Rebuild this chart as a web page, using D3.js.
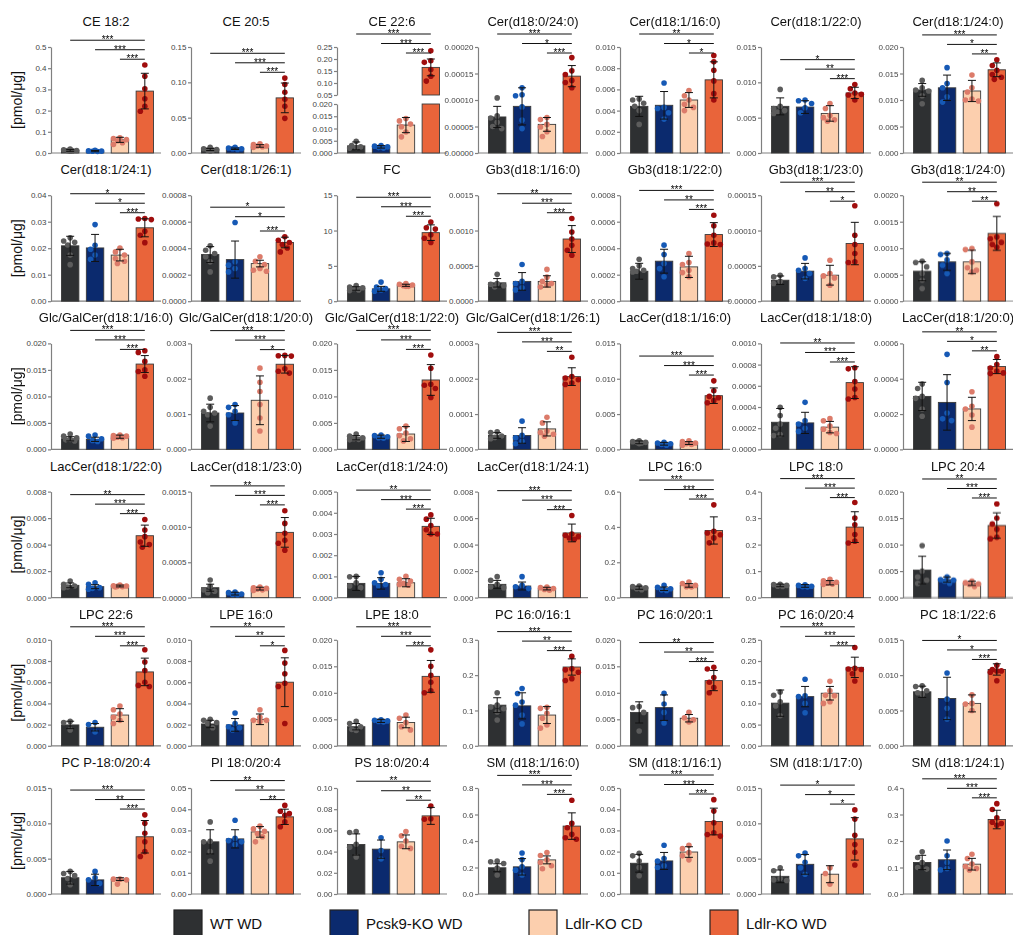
<!DOCTYPE html>
<html>
<head>
<meta charset="utf-8">
<script src="https://cdn.jsdelivr.net/npm/d3@7"></script>
<style>
  body { margin: 0; background: #fff; }
  svg { display: block; font-family: "Liberation Sans", Arial, sans-serif; }
  .stars { will-change: transform; }
</style>
</head>
<body>
<div id="chart"></div>
<script>
// ---- data ----
const groups = ["WT WD", "Pcsk9-KO WD", "Ldlr-KO CD", "Ldlr-KO WD"];
const barColors = ["#2e3032", "#0b2a6e", "#fccfae", "#e9643a"];
const dotColors = ["#5c5c5c", "#1659b5", "#dc7b6a", "#a00d0d"];

const titles = [
  "CE 18:2", "CE 20:5", "CE 22:6", "Cer(d18:0/24:0)", "Cer(d18:1/16:0)", "Cer(d18:1/22:0)", "Cer(d18:1/24:0)",
  "Cer(d18:1/24:1)", "Cer(d18:1/26:1)", "FC", "Gb3(d18:1/16:0)", "Gb3(d18:1/22:0)", "Gb3(d18:1/23:0)", "Gb3(d18:1/24:0)",
  "Glc/GalCer(d18:1/16:0)", "Glc/GalCer(d18:1/20:0)", "Glc/GalCer(d18:1/22:0)", "Glc/GalCer(d18:1/26:1)", "LacCer(d18:1/16:0)", "LacCer(d18:1/18:0)", "LacCer(d18:1/20:0)",
  "LacCer(d18:1/22:0)", "LacCer(d18:1/23:0)", "LacCer(d18:1/24:0)", "LacCer(d18:1/24:1)", "LPC 16:0", "LPC 18:0", "LPC 20:4",
  "LPC 22:6", "LPE 16:0", "LPE 18:0", "PC 16:0/16:1", "PC 16:0/20:1", "PC 16:0/20:4", "PC 18:1/22:6",
  "PC P-18:0/20:4", "PI 18:0/20:4", "PS 18:0/20:4", "SM (d18:1/16:0)", "SM (d18:1/16:1)", "SM (d18:1/17:0)", "SM (d18:1/24:1)"
];

const yMax = [
  0.5, 0.15, 0.25, 0.0002, 0.010, 0.015, 0.020,
  0.04, 0.0008, 15, 0.0015, 0.0008, 0.00015, 0.0020,
  0.020, 0.003, 0.020, 0.0003, 0.015, 0.0010, 0.0006,
  0.008, 0.0015, 0.005, 0.008, 0.6, 0.4, 0.020,
  0.010, 0.010, 0.020, 0.3, 0.020, 0.25, 0.015,
  0.015, 0.05, 0.10, 0.8, 0.05, 0.015, 0.4
];
const yStep = [
  0.1, 0.05, 0.05, 0.00005, 0.002, 0.005, 0.005,
  0.01, 0.0002, 5, 0.0005, 0.0002, 0.00005, 0.0005,
  0.005, 0.001, 0.005, 0.0001, 0.005, 0.0002, 0.0002,
  0.002, 0.0005, 0.001, 0.002, 0.2, 0.1, 0.005,
  0.002, 0.002, 0.005, 0.1, 0.005, 0.05, 0.005,
  0.005, 0.01, 0.02, 0.2, 0.01, 0.005, 0.1
];
const yDigits = [
  1, 2, 2, 5, 3, 3, 3,
  2, 4, 0, 4, 4, 5, 4,
  3, 3, 3, 4, 3, 4, 4,
  3, 4, 3, 3, 1, 1, 3,
  3, 3, 3, 1, 3, 2, 3,
  3, 2, 2, 1, 2, 3, 1
];

// CE 22:6 uses a broken y axis: [min, max, step]
const brokenPanel = 2;
const brokenLow = [0, 0.02, 0.005];
const brokenHigh = [0.05, 0.25, 0.05];

const means = [
  [0.012, 0.009, 0.062, 0.292], [0.005, 0.006, 0.010, 0.078], [0.0029, 0.0025, 0.0114, 0.165],
  [0.000068, 0.000088, 0.000054, 0.000145], [0.0044, 0.0045, 0.0050, 0.0069], [0.0066, 0.0065, 0.0056, 0.0085],
  [0.0119, 0.0123, 0.0117, 0.0157],
  [0.0209, 0.0201, 0.0174, 0.0277], [0.000352, 0.000314, 0.000284, 0.000443], [1.8, 1.75, 2.25, 9.7],
  [0.00026, 0.00028, 0.00028, 0.00088], [0.000226, 0.000302, 0.000259, 0.000503], [0.0000297, 0.0000425, 0.0000368, 0.0000816],
  [0.000566, 0.000742, 0.000742, 0.00128],
  [0.0020, 0.0019, 0.0024, 0.0161], [0.00103, 0.00103, 0.00139, 0.00241], [0.0022, 0.0024, 0.0029, 0.0131],
  [0.0000394, 0.0000394, 0.000058, 0.000206], [0.0010, 0.0008, 0.0009, 0.0076], [0.000256, 0.00025, 0.00021, 0.00063],
  [0.0003, 0.000266, 0.000229, 0.000469],
  [0.000925, 0.000825, 0.000875, 0.00467], [0.00014, 0.0000563, 0.000127, 0.000923], [0.00067, 0.00067, 0.0007, 0.00336],
  [0.0010, 0.000875, 0.00068, 0.00488], [0.056, 0.05, 0.069, 0.38], [0.046, 0.044, 0.056, 0.266],
  [0.0052, 0.0034, 0.0027, 0.0136],
  [0.00197, 0.00175, 0.0029, 0.00697], [0.00206, 0.00197, 0.0025, 0.006], [0.0036, 0.0047, 0.0044, 0.0131],
  [0.115, 0.113, 0.087, 0.223], [0.0063, 0.0072, 0.0052, 0.0123], [0.1006, 0.116, 0.124, 0.185],
  [0.00764, 0.0067, 0.006, 0.0108],
  [0.0023, 0.0020, 0.0021, 0.0081], [0.0246, 0.026, 0.0293, 0.0364], [0.0467, 0.0423, 0.0492, 0.0737],
  [0.198, 0.205, 0.2575, 0.5125], [0.0145, 0.0156, 0.0198, 0.0342], [0.0025, 0.0042, 0.0028, 0.0078],
  [0.119, 0.129, 0.1125, 0.281]
];

const sds = [
  [0.004, 0.003, 0.012, 0.084], [0.0015, 0.001, 0.0018, 0.021], [0.0016, 0.0005, 0.0031, 0.035],
  [0.00002, 0.000035, 0.000013, 0.00002], [0.00095, 0.0013, 0.0007, 0.0017], [0.0012, 0.0009, 0.0011, 0.0008],
  [0.0012, 0.0024, 0.0020, 0.0013],
  [0.0036, 0.0051, 0.0022, 0.0034], [0.00006, 0.00014, 0.000025, 0.00004], [0.25, 0.35, 0.15, 1.1],
  [0.00006, 0.000125, 0.00008, 0.00019], [0.00006, 0.00009, 0.00008, 0.00009], [0.000006, 0.000011, 0.000014, 0.00003],
  [0.00018, 0.00016, 0.00022, 0.00032],
  [0.0004, 0.0004, 0.0003, 0.0016], [0.00025, 0.00021, 0.00069, 0.00025], [0.0004, 0.0003, 0.0014, 0.0029],
  [0.000008, 0.000022, 0.00002, 0.000025], [0.0002, 0.0002, 0.0002, 0.0011], [0.00013, 0.0001, 0.000054, 0.00015],
  [0.00008, 0.000157, 0.000066, 0.00004],
  [0.00018, 0.00015, 0.00007, 0.0008], [0.00005, 0.00002, 0.00002, 0.00021], [0.00033, 0.00027, 0.00019, 0.00038],
  [0.0003, 0.0003, 0.0001, 0.00067], [0.009, 0.01, 0.01, 0.077], [0.005, 0.005, 0.008, 0.058],
  [0.0026, 0.0005, 0.0004, 0.0024],
  [0.00035, 0.00035, 0.0006, 0.0013], [0.00035, 0.0006, 0.0005, 0.0023], [0.0006, 0.0003, 0.001, 0.003],
  [0.021, 0.037, 0.024, 0.023], [0.002, 0.0024, 0.0007, 0.0019], [0.031, 0.024, 0.016, 0.024],
  [0.0008, 0.003, 0.0012, 0.0008],
  [0.0009, 0.0008, 0.0002, 0.0023], [0.0057, 0.0043, 0.0025, 0.0036], [0.01, 0.0086, 0.0065, 0.008],
  [0.03, 0.062, 0.03, 0.1], [0.0042, 0.004, 0.0025, 0.0063], [0.0009, 0.0014, 0.0012, 0.003],
  [0.027, 0.037, 0.022, 0.035]
];

const points = [
  [[0.019, 0.015, 0.012, 0.010, 0.008, 0.011], [0.013, 0.010, 0.009, 0.007, 0.008], [0.072, 0.068, 0.063, 0.058, 0.048, 0.040], [0.415, 0.362, 0.303, 0.256, 0.220, 0.197]],
  [[0.008, 0.006, 0.005, 0.004, 0.003, 0.004], [0.008, 0.007, 0.006, 0.005, 0.006], [0.013, 0.012, 0.010, 0.009, 0.008, 0.010], [0.106, 0.097, 0.086, 0.076, 0.066, 0.049]],
  [[0.0048, 0.0030, 0.0025, 0.0022, 0.0020], [0.0030, 0.0028, 0.0025, 0.0022, 0.0020], [0.0141, 0.0131, 0.0118, 0.0107, 0.0086, 0.0066], [0.234, 0.193, 0.186, 0.156, 0.128, 0.108]],
  [[0.000104, 0.000070, 0.000066, 0.000058, 0.000050, 0.000046], [0.000123, 0.000110, 0.000108, 0.000087, 0.000062, 0.000046], [0.000067, 0.000063, 0.000054, 0.000049, 0.000040, 0.000031], [0.000180, 0.000155, 0.000148, 0.000137, 0.000133, 0.000123]],
  [[0.0051, 0.0050, 0.0047, 0.0044, 0.0040, 0.0027], [0.0066, 0.0043, 0.0042, 0.0038, 0.0032], [0.0059, 0.0054, 0.0050, 0.0046, 0.0043, 0.0040], [0.0092, 0.0086, 0.0078, 0.0068, 0.0056, 0.0050]],
  [[0.0090, 0.0066, 0.0063, 0.0058, 0.0056, 0.0060], [0.0075, 0.0074, 0.0070, 0.0064, 0.0057], [0.0070, 0.0063, 0.0053, 0.0050, 0.0045, 0.0047], [0.0097, 0.0091, 0.0085, 0.0082, 0.0075, 0.0083]],
  [[0.0137, 0.0123, 0.0119, 0.0117, 0.0108, 0.0093], [0.0161, 0.0131, 0.0123, 0.0106, 0.0096], [0.0147, 0.0123, 0.0115, 0.0102, 0.0100, 0.0098], [0.0176, 0.0165, 0.0156, 0.0148, 0.0139, 0.0143]],

  [[0.0239, 0.0227, 0.0222, 0.0212, 0.0174, 0.0138], [0.0289, 0.0211, 0.0196, 0.0174, 0.0158], [0.0201, 0.0186, 0.0174, 0.0161, 0.0151, 0.0142], [0.0312, 0.0310, 0.0308, 0.0264, 0.0249, 0.0221]],
  [[0.000418, 0.000385, 0.000360, 0.000335, 0.000297, 0.000221], [0.000594, 0.000297, 0.000272, 0.000247, 0.000221], [0.000335, 0.000302, 0.000277, 0.000247, 0.000234, 0.000226], [0.000486, 0.000460, 0.000443, 0.000428, 0.000402, 0.000372]],
  [[2.2, 2.0, 1.9, 1.8, 1.6, 1.5], [2.7, 2.0, 1.8, 1.6, 1.4], [2.5, 2.4, 2.3, 2.2, 2.1, 2.1], [11.2, 10.4, 10.2, 9.4, 8.9, 8.3]],
  [[0.00038, 0.00025, 0.00022, 0.00020, 0.00024], [0.00052, 0.00028, 0.00025, 0.00019, 0.00016], [0.00045, 0.00034, 0.00028, 0.00025, 0.00023, 0.00020], [0.00117, 0.00098, 0.00088, 0.00079, 0.00072, 0.00065]],
  [[0.000317, 0.000267, 0.000246, 0.000234, 0.000220, 0.000226], [0.000423, 0.000352, 0.000284, 0.000246, 0.000184], [0.000360, 0.000292, 0.000277, 0.000234, 0.000216, 0.000184], [0.000649, 0.000569, 0.000498, 0.000440, 0.000432, 0.000428]],
  [[0.0000368, 0.0000344, 0.0000283, 0.0000250], [0.0000613, 0.0000462, 0.0000439, 0.0000392, 0.0000321], [0.0000580, 0.0000392, 0.0000358, 0.0000330, 0.0000226], [0.000135, 0.0000934, 0.0000802, 0.0000675, 0.0000557, 0.0000547]],
  [[0.000755, 0.000730, 0.000648, 0.000522, 0.000396, 0.000239], [0.000900, 0.000880, 0.000780, 0.000680, 0.000522], [0.000994, 0.000975, 0.000742, 0.000630, 0.000585, 0.000550], [0.00184, 0.00121, 0.00111, 0.00107, 0.00102, 0.00118]],

  [[0.0029, 0.0025, 0.0022, 0.0019, 0.0016, 0.0018], [0.0027, 0.0025, 0.0020, 0.0017, 0.0015], [0.0027, 0.0026, 0.0025, 0.0023, 0.0022, 0.0021], [0.0186, 0.0183, 0.0166, 0.0150, 0.0147, 0.0138]],
  [[0.00145, 0.00119, 0.00108, 0.00103, 0.00098, 0.00066], [0.00127, 0.00119, 0.00108, 0.00098, 0.00075], [0.00230, 0.00190, 0.00164, 0.00127, 0.00089, 0.00052], [0.00266, 0.00265, 0.00264, 0.00228, 0.00216, 0.00221]],
  [[0.0029, 0.0025, 0.0022, 0.0020, 0.0018, 0.0019], [0.0027, 0.0026, 0.0024, 0.0022, 0.0021], [0.0044, 0.0039, 0.0031, 0.0026, 0.0020, 0.0016], [0.0178, 0.0153, 0.0123, 0.0121, 0.0115, 0.0098]],
  [[0.0000497, 0.0000480, 0.0000380, 0.0000300, 0.0000340], [0.0000800, 0.0000400, 0.0000330, 0.0000230, 0.0000160], [0.0000910, 0.0000750, 0.0000520, 0.0000480, 0.0000430, 0.0000375], [0.000261, 0.000206, 0.000202, 0.000197, 0.000188, 0.000184]],
  [[0.0012, 0.0011, 0.0010, 0.0009, 0.0008, 0.0010], [0.0010, 0.0009, 0.0008, 0.0007, 0.0006], [0.0012, 0.0011, 0.0009, 0.0008, 0.0007, 0.0006], [0.0097, 0.0083, 0.0075, 0.0073, 0.0069, 0.0066]],
  [[0.000397, 0.000320, 0.000240, 0.000200, 0.000140, 0.000130], [0.000444, 0.000270, 0.000240, 0.000200, 0.000170], [0.000290, 0.000270, 0.000220, 0.000190, 0.000160, 0.000150], [0.000770, 0.000760, 0.000640, 0.000570, 0.000490, 0.000475]],
  [[0.000370, 0.000345, 0.000300, 0.000289, 0.000229, 0.000188], [0.000538, 0.000379, 0.000206, 0.000173, 0.000163], [0.000326, 0.000244, 0.000229, 0.000195, 0.000126], [0.000525, 0.000480, 0.000461, 0.000443, 0.000433, 0.000429]],

  [[0.00125, 0.00100, 0.00088, 0.00075, 0.00080], [0.00112, 0.00100, 0.00075, 0.00063, 0.00070], [0.00095, 0.00090, 0.00088, 0.00085, 0.00080, 0.00082], [0.0059, 0.0051, 0.0046, 0.0042, 0.0040, 0.0038]],
  [[0.000248, 0.000160, 0.000110, 0.000090, 0.000070], [0.000080, 0.000070, 0.000050, 0.000040, 0.000045], [0.000150, 0.000140, 0.000130, 0.000120, 0.000100, 0.000110], [0.00123, 0.00105, 0.00091, 0.00081, 0.00077, 0.00067]],
  [[0.00100, 0.00098, 0.00070, 0.00055, 0.00047], [0.00117, 0.00086, 0.00070, 0.00062, 0.00055], [0.00100, 0.00086, 0.00078, 0.00067, 0.00062, 0.00058], [0.0039, 0.0037, 0.0034, 0.0032, 0.0030, 0.0030]],
  [[0.00158, 0.00130, 0.00100, 0.00075, 0.00080], [0.00158, 0.00092, 0.00082, 0.00068], [0.00080, 0.00075, 0.00068, 0.00062, 0.00055], [0.0062, 0.0048, 0.0047, 0.0046, 0.0045, 0.0044]],
  [[0.066, 0.062, 0.056, 0.050, 0.045], [0.069, 0.058, 0.050, 0.044, 0.040], [0.088, 0.080, 0.069, 0.062, 0.060], [0.525, 0.375, 0.366, 0.356, 0.338, 0.310]],
  [[0.050, 0.049, 0.046, 0.043, 0.042], [0.048, 0.046, 0.043, 0.041, 0.040], [0.069, 0.063, 0.058, 0.054, 0.051, 0.050], [0.359, 0.300, 0.275, 0.238, 0.213, 0.206]],
  [[0.0098, 0.0050, 0.0039, 0.0033, 0.0027], [0.0039, 0.0034, 0.0031, 0.0027, 0.0033], [0.0031, 0.0028, 0.0025, 0.0021, 0.0026], [0.0177, 0.0150, 0.0139, 0.0129, 0.0114, 0.0111]],

  [[0.0023, 0.0022, 0.0015], [0.0022, 0.0020, 0.0013], [0.00375, 0.0034, 0.0030, 0.0027, 0.0024, 0.0021], [0.00906, 0.0079, 0.0071, 0.0060, 0.0057, 0.0056]],
  [[0.0025, 0.0024, 0.0022, 0.0021, 0.0017], [0.0031, 0.0021, 0.0018, 0.0017, 0.0015], [0.0034, 0.0027, 0.0024, 0.0024, 0.0023], [0.0090, 0.0078, 0.0068, 0.0059, 0.0056, 0.0021]],
  [[0.0046, 0.0042, 0.0036, 0.0031, 0.0029], [0.0049, 0.0048, 0.0047, 0.0046, 0.0045], [0.0058, 0.0052, 0.0044, 0.0036, 0.0030], [0.0181, 0.0150, 0.0133, 0.0120, 0.0104, 0.0100]],
  [[0.150, 0.115, 0.110, 0.105, 0.096, 0.073], [0.162, 0.148, 0.124, 0.115, 0.087, 0.062], [0.109, 0.106, 0.092, 0.078, 0.059, 0.050], [0.253, 0.218, 0.215, 0.208, 0.190, 0.185]],
  [[0.0074, 0.0072, 0.0063, 0.0028], [0.0099, 0.0079, 0.0063, 0.0043], [0.0063, 0.0053, 0.0049, 0.0045], [0.0148, 0.0145, 0.0129, 0.0120, 0.0110, 0.0100]],
  [[0.127, 0.119, 0.104, 0.094, 0.071], [0.157, 0.118, 0.116, 0.100, 0.078], [0.152, 0.130, 0.119, 0.118, 0.104, 0.100], [0.232, 0.183, 0.181, 0.180, 0.170, 0.153]],
  [[0.0085, 0.0084, 0.0078, 0.0075, 0.0073], [0.0103, 0.0066, 0.0053, 0.0038], [0.0072, 0.0060, 0.0059, 0.0050], [0.0114, 0.0108, 0.0106, 0.0104, 0.0092, 0.0106]],

  [[0.0032, 0.0029, 0.0026, 0.0022, 0.0013], [0.0032, 0.0023, 0.0020, 0.0015], [0.0021, 0.0021, 0.0020, 0.0014], [0.0112, 0.0100, 0.0086, 0.0074, 0.0060, 0.0053]],
  [[0.0340, 0.0249, 0.0246, 0.0200, 0.0155], [0.0348, 0.0263, 0.0252, 0.0246, 0.0233], [0.0320, 0.0307, 0.0296, 0.0285, 0.0270, 0.0246], [0.0418, 0.0390, 0.0379, 0.0371, 0.0340, 0.0317]],
  [[0.059, 0.058, 0.047, 0.044, 0.035], [0.053, 0.041, 0.033], [0.059, 0.055, 0.050, 0.045, 0.043], [0.083, 0.071, 0.0705]],
  [[0.248, 0.243, 0.230, 0.195, 0.143], [0.310, 0.260, 0.205, 0.180, 0.143], [0.313, 0.290, 0.258, 0.238, 0.213, 0.190], [0.708, 0.533, 0.500, 0.450, 0.425, 0.413]],
  [[0.0192, 0.0180, 0.0156, 0.0125, 0.0086], [0.0230, 0.0167, 0.0156, 0.0133, 0.0125], [0.0230, 0.0214, 0.0195, 0.0180, 0.0161], [0.0445, 0.0391, 0.0336, 0.0289, 0.0281, 0.0273]],
  [[0.0037, 0.0033, 0.0022, 0.0020, 0.0019], [0.0058, 0.0054, 0.0045, 0.0037, 0.0028], [0.0037, 0.0029, 0.0014], [0.0119, 0.0106, 0.0083, 0.0070, 0.0059, 0.0041]],
  [[0.159, 0.138, 0.119, 0.100, 0.094], [0.200, 0.144, 0.119, 0.096, 0.091], [0.150, 0.134, 0.113, 0.104, 0.096, 0.091], [0.341, 0.319, 0.288, 0.271, 0.266, 0.259]]
];

// significance vs Ldlr-KO WD: [WT WD, Pcsk9-KO WD, Ldlr-KO CD]
const stars = [
  ["***", "***", "***"], ["***", "***", "***"], ["***", "***", "***"], ["***", "*", "***"], ["**", "*", "*"], ["*", "**", "***"], ["***", "*", "**"],
  ["*", "*", "***"], ["*", "*", "***"], ["***", "***", "***"], ["**", "***", "***"], ["***", "**", "***"], ["***", "**", "*"], ["**", "**", "**"],
  ["***", "***", "***"], ["***", "***", "*"], ["***", "***", "***"], ["***", "***", "**"], ["***", "***", "***"], ["**", "***", "***"], ["**", "*", "**"],
  ["**", "***", "***"], ["**", "***", "***"], ["**", "***", "***"], ["***", "***", "***"], ["***", "***", "***"], ["***", "***", "***"], ["**", "***", "***"],
  ["***", "***", "***"], ["**", "**", "*"], ["***", "***", "***"], ["***", "**", "***"], ["**", "**", "***"], ["***", "***", "***"], ["*", "*", "***"],
  ["***", "**", "***"], ["**", "**", "**"], ["**", "**", "**"], ["***", "***", "***"], ["***", "***", "***"], ["*", "*", "*"], ["***", "***", "***"]
];

// ---- layout ----
const W = 1013, H = 935;
const colX = [51, 191, 337, 478, 620, 761, 903];
const plotW = 110, plotH = 106;
const rowBottom = r => 153 + r * 148.2;
const axisColor = "#808080";
const dotR = 2.8;
const titleY = -21;        // title baseline, relative to plot top
const bracketGap = 3;      // space between lowest bracket and data
const bracketStep = 9.5;   // distance between stacked brackets
const bracketCeil = -13;   // highest allowed bracket (keeps stars under the title)

const svg = d3.select("#chart").append("svg")
    .attr("width", W)
    .attr("height", H);

const x = d3.scaleBand()
    .domain(groups)
    .range([3, plotW])
    .paddingInner(0.3)
    .paddingOuter(0.3);
const cx = j => x(groups[j]) + x.bandwidth() / 2;

function drawAxis(g, scale, ticks, digits) {
    const ax = g.append("g")
        .call(d3.axisLeft(scale)
            .tickValues(ticks)
            .tickFormat(d3.format(`.${digits}f`))
            .tickSize(3)
            .tickSizeOuter(0)
            .tickPadding(1.5));
    ax.selectAll("path, line").attr("stroke", axisColor).attr("stroke-width", 1.2);
    ax.selectAll("text")
        .attr("fill", "#444")
        .style("font-size", "8px")
        .style("font-family", "'Liberation Sans', Arial, sans-serif");
}

// simple beeswarm so equal values don't stack on each other
function swarm(pys) {
    const cand = [0, -4.5, 4.5, -2.5, 2.5, -6.5, 6.5];
    const placed = [];
    const order = pys.map((py, k) => k).sort((a, b) => pys[a] - pys[b]);
    const out = new Array(pys.length);
    order.forEach(k => {
        const py = pys[k];
        let best = 0, bestD = -1;
        for (const dx of cand) {
            let minD = Infinity;
            placed.forEach(p => { minD = Math.min(minD, Math.hypot(p[0] - dx, p[1] - py)); });
            if (minD >= 2 * dotR + 0.4) { best = dx; bestD = Infinity; break; }
            if (minD > bestD) { bestD = minD; best = dx; }
        }
        placed.push([best, py]);
        out[k] = best;
    });
    return out;
}

titles.forEach((title, i) => {
    const r = Math.floor(i / 7), c = i % 7;
    const g = svg.append("g")
        .attr("transform", `translate(${colX[c]},${rowBottom(r) - plotH})`);

    let y;
    if (i === brokenPanel) {
        y = d3.scaleLinear()
            .domain([brokenLow[0], brokenLow[1], brokenHigh[0], brokenHigh[1]])
            .range([plotH, plotH - 49, plotH - 58, 0]);
        const yLow = d3.scaleLinear().domain([brokenLow[0], brokenLow[1]]).range([plotH, plotH - 49]);
        const yHigh = d3.scaleLinear().domain([brokenHigh[0], brokenHigh[1]]).range([plotH - 58, 0]);
        drawAxis(g, yLow, d3.range(brokenLow[0], brokenLow[1] + brokenLow[2] / 2, brokenLow[2]), 3);
        drawAxis(g, yHigh, d3.range(brokenHigh[0], brokenHigh[1] + brokenHigh[2] / 2, brokenHigh[2]), 2);
    } else {
        y = d3.scaleLinear().domain([0, yMax[i]]).range([plotH, 0]);
        drawAxis(g, y, d3.range(0, yMax[i] + yStep[i] / 2, yStep[i]), yDigits[i]);
    }

    // x axis line
    g.append("line")
        .attr("x1", 0).attr("x2", plotW)
        .attr("y1", plotH).attr("y2", plotH)
        .attr("stroke", axisColor).attr("stroke-width", 1.2);

    // bars
    means[i].forEach((m, j) => {
        const pieces = (i === brokenPanel && m > brokenLow[1])
            ? [[brokenLow[0], brokenLow[1]], [brokenHigh[0], m]]
            : [[0, m]];
        pieces.forEach(([a, b]) => {
            g.append("rect")
                .attr("x", x(groups[j]))
                .attr("width", x.bandwidth())
                .attr("y", y(b))
                .attr("height", y(a) - y(b))
                .attr("fill", barColors[j])
                .attr("stroke", "#3a3a3a")
                .attr("stroke-width", 0.9);
        });
    });

    // dots
    points[i].forEach((vals, j) => {
        const pys = vals.map(v => y(v));
        const offs = swarm(pys);
        g.selectAll(null)
            .data(vals)
            .enter().append("circle")
            .attr("cx", (d, k) => cx(j) + offs[k])
            .attr("cy", d => y(d))
            .attr("r", dotR)
            .attr("fill", dotColors[j]);
    });

    // error bars (mean +/- SD)
    means[i].forEach((m, j) => {
        const y1 = y(m + sds[i][j]), y0 = y(Math.max(0, m - sds[i][j]));
        const eb = g.append("g").attr("stroke", "#111").attr("stroke-width", 1);
        eb.append("line").attr("x1", cx(j)).attr("x2", cx(j)).attr("y1", y1).attr("y2", y0);
        [y1, y0].forEach(yy => {
            eb.append("line").attr("x1", cx(j) - 4).attr("x2", cx(j) + 4).attr("y1", yy).attr("y2", yy);
        });
    });

    // significance brackets (Ldlr-KO WD vs each other group)
    const topPx = means[i].map((m, j) => Math.min(y(m + sds[i][j]), d3.min(points[i][j], v => y(v)) - dotR));
    const levels = [];
    let prev = Infinity;
    [2, 1, 0].forEach(j => {
        const ly = Math.min(prev - bracketStep, d3.min(topPx.slice(j)) - bracketGap);
        levels.push([j, ly]);
        prev = ly;
    });
    const shift = Math.max(0, bracketCeil - prev);
    const br = g.append("g").attr("class", "stars");
    levels.forEach(([j, ly]) => {
        ly += shift;
        br.append("line")
            .attr("x1", cx(j)).attr("x2", cx(3))
            .attr("y1", ly).attr("y2", ly)
            .attr("stroke", "#111").attr("stroke-width", 1);
        br.append("text")
            .attr("x", (cx(j) + cx(3)) / 2)
            .attr("y", ly + 3)
            .attr("text-anchor", "middle")
            .style("font-size", "10px")
            .attr("fill", "#000")
            .text(stars[i][j]);
    });

    // title
    g.append("text")
        .attr("x", plotW / 2)
        .attr("y", titleY)
        .attr("text-anchor", "middle")
        .style("font-size", "13px")
        .attr("fill", "#111")
        .text(title);
});

// y labels, one per row
d3.range(6).forEach(r => {
    svg.append("text")
        .attr("transform", `translate(22,${rowBottom(r) - plotH / 2}) rotate(-90)`)
        .attr("text-anchor", "middle")
        .style("font-size", "14px")
        .attr("fill", "#111")
        .text("[pmol/μg]");
});

// legend
const legendX = [174, 330, 529, 710];
groups.forEach((name, j) => {
    svg.append("rect")
        .attr("x", legendX[j]).attr("y", 910)
        .attr("width", 28).attr("height", 27)
        .attr("fill", barColors[j])
        .attr("stroke", "#222").attr("stroke-width", 1.2);
    svg.append("text")
        .attr("x", legendX[j] + 36).attr("y", 929)
        .style("font-size", "15px")
        .attr("fill", "#111")
        .text(name);
});
</script>
</body>
</html>
